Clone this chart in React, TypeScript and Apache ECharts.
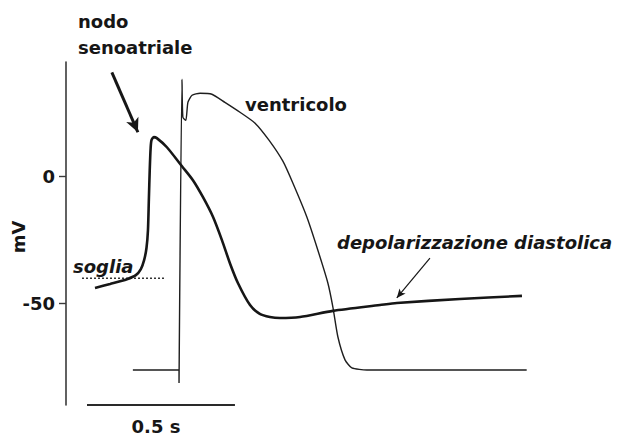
import React, { useEffect, useRef } from "react";
import * as echarts from "echarts";

// Time (s) and membrane potential (mV)
const saTime = [0.098, 0.149, 0.206, 0.236, 0.253, 0.264, 0.272, 0.277, 0.28, 0.283, 0.286, 0.289, 0.297, 0.307, 0.341, 0.392, 0.429, 0.463, 0.497, 0.527, 0.554, 0.581, 0.622, 0.655, 0.689, 0.723, 0.791, 0.902, 1.061, 1.118, 1.331, 1.541];
const saMv = [-44.1, -42.5, -40.6, -39.0, -36.6, -33.1, -28.3, -21.3, -9.4, 2.4, 11.0, 14.2, 15.4, 15.0, 11.4, 3.9, -1.6, -8.3, -16.1, -25.2, -34.3, -42.1, -50.8, -54.3, -55.5, -55.9, -55.5, -53.1, -50.8, -50.0, -48.4, -47.2];

const ventTime = [0.226, 0.382, 0.382, 0.392, 0.395, 0.405, 0.412, 0.426, 0.453, 0.493, 0.537, 0.588, 0.639, 0.686, 0.733, 0.767, 0.814, 0.851, 0.885, 0.902, 0.919, 0.943, 0.966, 1.017, 1.557];
const ventMv = [-76.4, -76.4, -81.5, 38.2, 23.2, 22.0, 29.1, 31.9, 32.7, 32.3, 29.1, 25.2, 20.9, 14.2, 5.9, -2.8, -16.1, -29.1, -42.1, -51.6, -63.4, -72.4, -75.6, -76.4, -76.4];

const thresholdTime = [0.054, 0.334];
const thresholdMv = [-40.2, -40.2];

const scaleBarTime = [0.071, 0.571];
const scaleBarMv = [-90.2, -90.2];

const yTickValues = [0, -50];

const arrowSA = [[0.155, 40.9], [0.243, 17.3]];
const arrowDiast = [[1.23, -32.3], [1.118, -48.0]];

const zip = (a: number[], b: number[]) => a.map((v, i) => [v, b[i]]);

const FONT = "DejaVu Sans";
const INK = "#161616";

export default function App() {
  const ref = useRef<HTMLDivElement>(null);
  useEffect(() => {
    if (!ref.current) return;
    const chart = echarts.init(ref.current, null, { renderer: "svg" });
    const txt = (text: string, x: number, y: number, extra: any = {}) => ({
      type: "text",
      x,
      y,
      style: {
        text,
        fill: INK,
        font: `${extra.italic ? "italic " : ""}bold 18px "${FONT}"`,
        textAlign: extra.align || "left",
        textVerticalAlign: "middle",
      },
      rotation: extra.rotation || 0,
    });
    chart.setOption({
      animation: false,
      backgroundColor: "#ffffff",
      grid: { left: 66, top: 62, width: 503, height: 343 },
      xAxis: {
        type: "value",
        min: 0,
        max: 1.7,
        show: false,
      },
      yAxis: {
        type: "value",
        min: -90.2,
        max: 45,
        axisLine: { show: true, lineStyle: { color: "#3a3a3a", width: 1.6 } },
        axisTick: { show: true, length: 7, customValues: yTickValues, lineStyle: { color: "#3a3a3a", width: 1.4 } },
        axisLabel: {
          customValues: yTickValues,
          margin: 11,
          color: INK,
          fontFamily: FONT,
          fontWeight: "bold",
          fontSize: 18,
        },
        splitLine: { show: false },
      },
      series: [
        {
          type: "line",
          name: "ventricolo",
          data: zip(ventTime, ventMv),
          showSymbol: false,
          smooth: 0.2,
          lineStyle: { color: "#1e1e1e", width: 1.4 },
          clip: false,
          z: 2,
        },
        {
          type: "line",
          name: "nodo senoatriale",
          data: zip(saTime, saMv),
          showSymbol: false,
          smooth: 0.25,
          lineStyle: { color: INK, width: 2.6 },
          clip: false,
          z: 3,
        },
        {
          type: "line",
          name: "soglia",
          data: zip(thresholdTime, thresholdMv),
          showSymbol: false,
          lineStyle: { color: "#333", width: 1.5, type: [2, 2] },
          z: 1,
        },
        {
          type: "line",
          name: "scala",
          data: zip(scaleBarTime, scaleBarMv),
          showSymbol: false,
          clip: false,
          lineStyle: { color: "#2a2a2a", width: 2 },
          markLine: {
            silent: true,
            symbol: ["none", "arrow"],
            label: { show: false },
            lineStyle: { color: INK, type: "solid" },
            data: [
              [
                { coord: arrowSA[0], symbol: "none", lineStyle: { width: 3, color: INK, type: "solid" } },
                { coord: arrowSA[1], symbol: "arrow", symbolSize: [10, 14] },
              ],
              [
                { coord: arrowDiast[0], symbol: "none", lineStyle: { width: 1.2, color: INK, type: "solid" } },
                { coord: arrowDiast[1], symbol: "arrow", symbolSize: [6, 9] },
              ],
            ],
          },
        },
      ],
      graphic: [
        txt("nodo", 78, 21),
        txt("senoatriale", 78, 47),
        txt("ventricolo", 245, 104),
        txt("soglia", 73, 266, { italic: true }),
        txt("depolarizzazione diastolica", 337, 242, { italic: true }),
        txt("0.5 s", 156, 426, { align: "center" }),
        txt("mV", 18, 237, { align: "center", rotation: Math.PI / 2 }),
      ],
    });
    return () => chart.dispose();
  }, []);
  return (
    <div
      ref={ref}
      style={{ position: "absolute", left: 0, top: 0, width: 621, height: 439 }}
    />
  );
}
